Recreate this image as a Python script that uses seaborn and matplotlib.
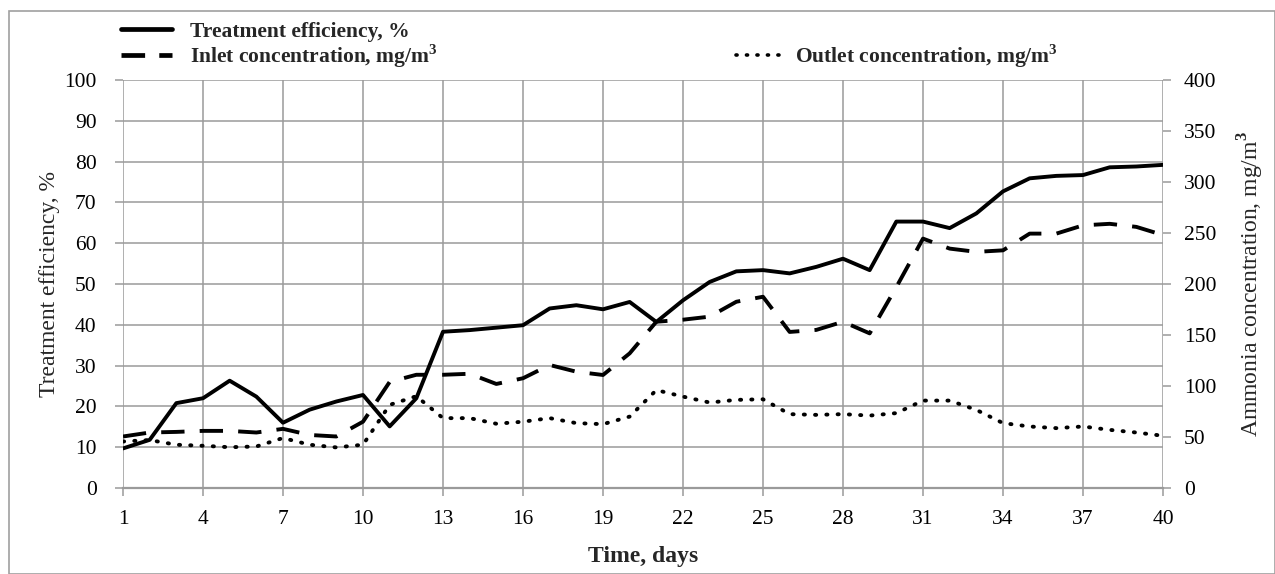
import matplotlib
matplotlib.use("Agg")
import matplotlib.pyplot as plt
import seaborn as sns
import pandas as pd
from matplotlib.lines import Line2D
from matplotlib.patches import Rectangle

days = list(range(1, 41))
efficiency = [9.7, 11.8, 20.8, 22.0, 26.3, 22.4, 16.0, 19.2, 21.2, 22.8,
              15.1, 22.0, 38.3, 38.7, 39.3, 39.9, 44.0, 44.8, 43.8, 45.6,
              40.7, 46.0, 50.5, 53.1, 53.4, 52.6, 54.2, 56.2, 53.4, 65.3,
              65.3, 63.7, 67.3, 72.7, 75.9, 76.5, 76.7, 78.6, 78.8, 79.2]
inlet = [50.5, 54.4, 55.0, 56.0, 56.0, 54.4, 58.0, 52.0, 50.5, 65.0,
         104.0, 111.0, 111.0, 112.0, 102.0, 107.6, 120.6, 114.0, 110.8, 132.0,
         163.0, 165.0, 168.0, 182.6, 187.5, 153.0, 155.0, 163.0, 151.6, 197.0,
         244.5, 234.7, 231.5, 233.0, 249.4, 249.4, 257.5, 259.0, 256.0, 248.0]
outlet = [45.6, 47.0, 42.4, 41.4, 40.0, 40.7, 49.0, 42.4, 39.8, 42.4,
          81.5, 90.0, 68.5, 68.5, 63.0, 65.0, 68.5, 63.6, 62.6, 70.0,
          96.0, 89.6, 83.8, 86.4, 87.0, 72.4, 71.7, 72.4, 71.0, 73.4,
          85.7, 85.7, 76.6, 63.6, 60.3, 58.7, 60.3, 57.0, 54.4, 51.2]
x_ticks = list(range(1, 41, 3))
left_ticks = list(range(0, 101, 10))
right_ticks = list(range(0, 401, 50))

df = pd.DataFrame({"day": days, "eff": efficiency, "inlet": inlet, "outlet": outlet})

sns.set_theme(style="white")
plt.rcParams["font.family"] = ["Liberation Serif", "DejaVu Serif"]
plt.rcParams["mathtext.fontset"] = "custom"
plt.rcParams["mathtext.rm"] = "Liberation Serif"
plt.rcParams["mathtext.bf"] = "Liberation Serif:bold"

fig = plt.figure(figsize=(12.75, 5.74), dpi=100)
ax = fig.add_axes([123/1275, 1-488/574, (1163-123)/1275, (488-80)/574])
ax2 = ax.twinx()

grid_c = "#9a9a9a"
lw = 2.8
sns.lineplot(data=df, x="day", y="eff", ax=ax, color="black", lw=lw,
             linestyle="-", legend=False)
sns.lineplot(data=df, x="day", y="inlet", ax=ax2, color="black", lw=lw,
             legend=False)
sns.lineplot(data=df, x="day", y="outlet", ax=ax2, color="black", lw=lw,
             legend=False)
ax2.lines[0].set_linestyle((0, (6.0, 3.9)))
ax2.lines[1].set_linestyle((0, (0.3, 2.6)))
ax2.lines[1].set_dash_capstyle("round")

ax.set_xlim(1, 40)
ax.set_ylim(0, 100)
ax2.set_ylim(0, 400)
ax.set_xticks(x_ticks)
ax.set_yticks(left_ticks)
ax2.set_yticks(right_ticks)
ax.grid(True, color=grid_c, lw=1.1)
ax2.grid(False)
for a in (ax, ax2):
    for s in a.spines.values():
        s.set_visible(False)
ax.spines["bottom"].set_visible(True)
ax.spines["bottom"].set_color(grid_c)
ax.spines["bottom"].set_linewidth(1.6)

tick_fs = 15.5
ax.tick_params(axis="both", which="both", length=6, width=1.1, color=grid_c,
               labelsize=tick_fs, labelcolor="black")
ax.tick_params(axis="y", pad=13)
ax.tick_params(axis="x", pad=10)
ax2.tick_params(axis="y", length=6, width=1.1, color=grid_c, labelsize=tick_fs,
                labelcolor="black", pad=9, right=True)
ax.tick_params(left=True, bottom=True)

ax.set_xlabel("Time, days", fontsize=17, fontweight="bold", labelpad=12)
ax.set_ylabel("Treatment efficiency, %", fontsize=17, labelpad=3)
ax2.set_ylabel(r"Ammonia concentration, mg/m$^{\mathbf{3}}$", fontsize=17, labelpad=14)

h1 = Line2D([], [], color="black", lw=3.4, linestyle="-")
h2 = Line2D([], [], color="black", lw=3.4, linestyle=(0, (5, 3)))
h3 = Line2D([], [], color="black", lw=2.6, linestyle=(0, (0.3, 2.6)), dash_capstyle="round")
leg_kw = dict(frameon=False, prop={"family": "Liberation Serif", "weight": "bold", "size": 15.5},
              handlelength=2.35, borderaxespad=0, borderpad=0)
legA = fig.legend([h1], ["Treatment efficiency, %"],
                  loc="center left", bbox_to_anchor=(121/1275, 1-32/574),
                  handletextpad=0.85, **leg_kw)
legB = fig.legend([h2], [r"Inlet concentration, mg/m$^{\mathbf{3}}$"],
                  loc="center left", bbox_to_anchor=(121/1275, 1-56/574),
                  handletextpad=0.85, **leg_kw)
legC = fig.legend([h3], [r"Outlet concentration, mg/m$^{\mathbf{3}}$"],
                  loc="center left", bbox_to_anchor=(736/1275, 1-56/574),
                  handletextpad=0.4, **leg_kw)

fig.patches.append(Rectangle((9/1275, 0), 1-9/1275, 1-11/574, transform=fig.transFigure,
                             fill=False, edgecolor="#a0a0a0", lw=1.2))

fig.savefig("out.png", dpi=100, facecolor="white")
